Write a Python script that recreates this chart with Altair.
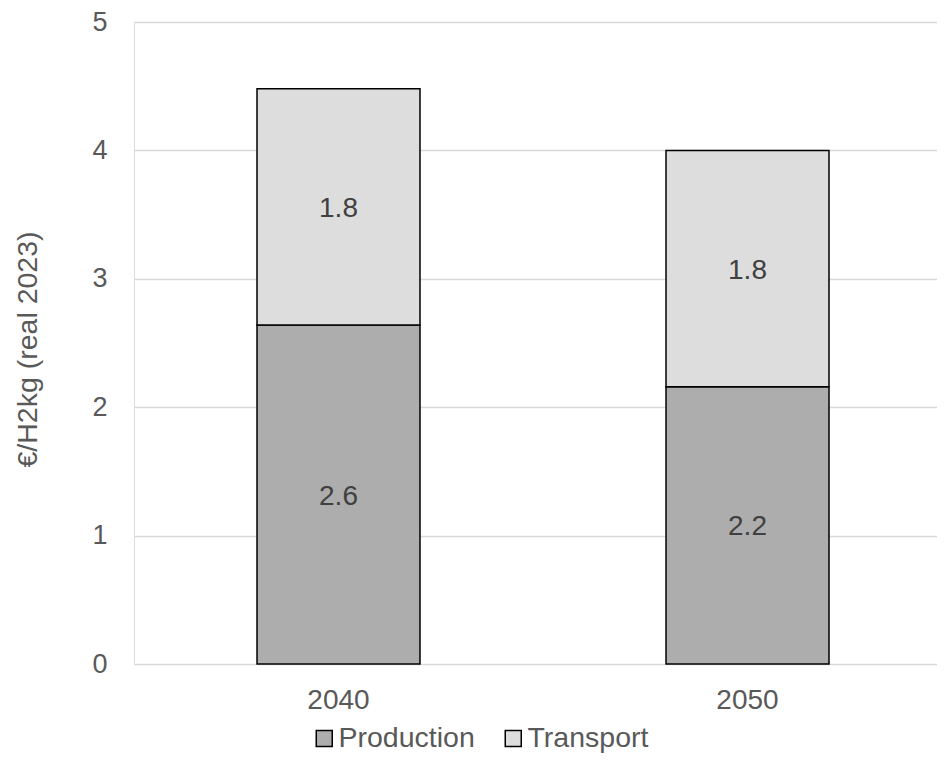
import altair as alt
import pandas as pd

years = ["2040", "2050"]
series = ["Production", "Transport"]
production = [2.64, 2.16]
transport = [1.84, 1.84]
colors = ["#ADADAD", "#DDDDDD"]
y_ticks = [0, 1, 2, 3, 4, 5]

rows = []
for i, yr in enumerate(years):
    rows.append({"year": yr, "series": "Production", "value": production[i], "order": 0})
    rows.append({"year": yr, "series": "Transport", "value": transport[i], "order": 1})
df = pd.DataFrame(rows)

FONT = "Liberation Sans"

x_enc = alt.X(
    "year:N",
    sort=years,
    scale=alt.Scale(paddingInner=0.6015, paddingOuter=0.2824, align=0.5325),
    axis=alt.Axis(
        title=None, labelAngle=0, domain=False, ticks=False, grid=False,
        labelFontSize=28, labelColor="#595959", labelFont=FONT, labelPadding=22,
    ),
)

base = alt.Chart(df).transform_stack(
    stack="value", groupby=["year"], as_=["y0", "y1"], sort=[alt.SortField("order")]
).transform_calculate(mid="(datum.y0 + datum.y1) / 2")

bars = base.mark_bar(stroke="black", strokeWidth=1.5).encode(
    x=x_enc,
    y=alt.Y(
        "y0:Q",
        scale=alt.Scale(domain=[0, 5], nice=False),
        axis=alt.Axis(
            title="€/H2kg (real 2023)", values=y_ticks, format="d", domain=False, ticks=False,
            grid=True, gridColor="#D9D9D9", gridWidth=1.5,
            labelFontSize=27, labelColor="#595959", labelFont=FONT, labelPadding=27,
            titleFontSize=28.5, titleColor="#595959", titleFont=FONT,
            titleFontWeight="normal", titlePadding=49, titleY=327,
        ),
    ),
    y2="y1:Q",
    color=alt.Color(
        "series:N",
        scale=alt.Scale(domain=series, range=colors),
        legend=alt.Legend(
            title=None, orient="none", legendX=176, legendY=702, direction="horizontal",
            symbolType="square", symbolSize=256, symbolStrokeColor="black",
            symbolStrokeWidth=1.5, symbolOpacity=1,
            labelFontSize=28.5, labelColor="#595959", labelFont=FONT,
            labelOffset=0, columnPadding=24, padding=0,
        ),
    ),
    order=alt.Order("order:Q"),
)

labels = base.mark_text(
    fontSize=28, color="#404040", font=FONT, baseline="middle", dy=2
).encode(
    x=alt.X("year:N", sort=years),
    y=alt.Y("mid:Q"),
    text=alt.Text("value:Q", format=".1f"),
)

chart = (
    alt.layer(bars, labels)
    .properties(
        width=803,
        height=642,
        autosize=alt.AutoSizeParams(type="none"),
        padding={"left": 126, "top": 14, "right": 0, "bottom": 93},
    )
    .configure_view(stroke=None)
    .configure(font=FONT)
)

chart.save("out.html", embed_options={"renderer": "svg", "actions": False})
